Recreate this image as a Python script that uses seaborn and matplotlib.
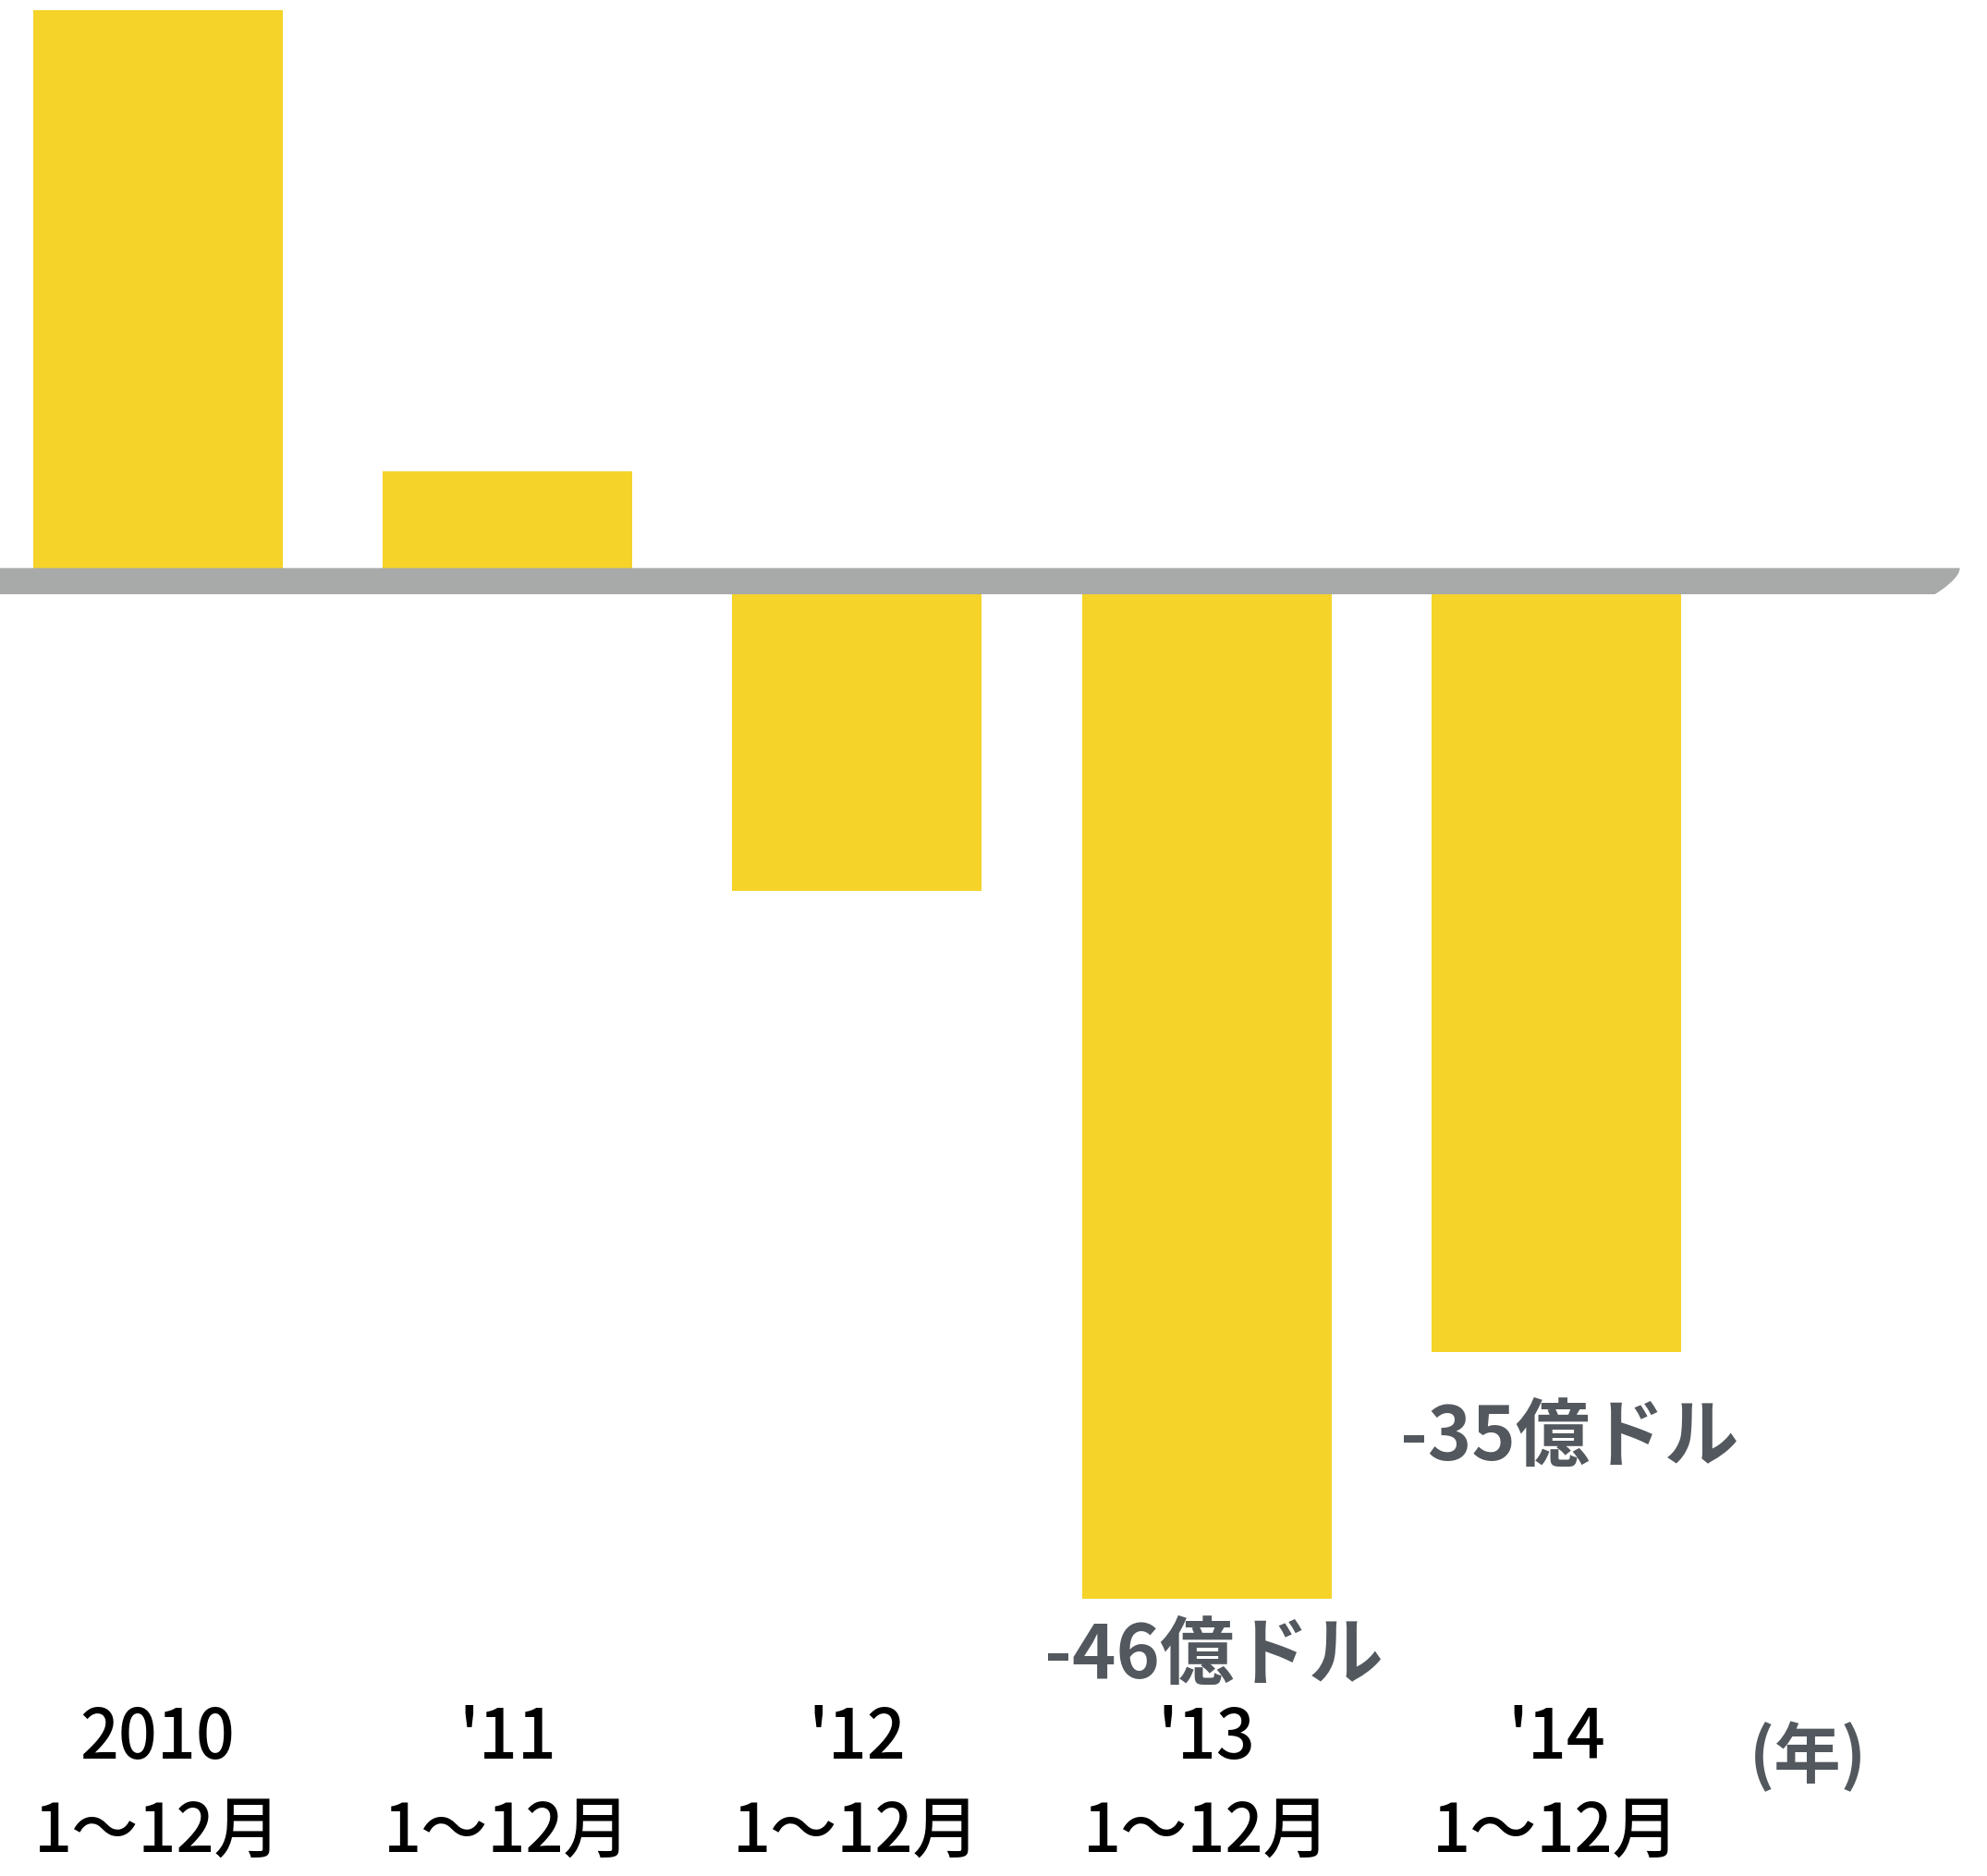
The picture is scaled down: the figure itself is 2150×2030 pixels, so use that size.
import matplotlib
matplotlib.use("Agg")
import matplotlib.pyplot as plt
import matplotlib.transforms as mtransforms
from matplotlib.patches import Polygon
import seaborn as sns
import numpy as np

# ---- data ----
years = ["2010", "'11", "'12", "'13", "'14"]
period = ["1～12月", "1～12月", "1～12月", "1～12月", "1～12月"]
values = [24.9, 4.3, -14.4, -46.0, -35.0]
value_labels = {3: "-46億ドル", 4: "-35億ドル"}
unit_label = "(年)"

YELLOW = "#F5D329"
BAND = "#A7AAA8"
LABEL_GRAY = "#53585E"

sns.set_theme(style="white")
plt.rcParams["font.family"] = ["Noto Sans CJK JP", "DejaVu Sans"]

fig = plt.figure(figsize=(21.5, 20.31), dpi=100)
ax = fig.add_axes([0, 0, 1, 1])

sns.barplot(x=list(range(len(values))), y=values, color=YELLOW, saturation=1,
            width=0.714, ax=ax, zorder=1, linewidth=0, native_scale=True)

ax.set_xlim(-0.451, 5.232)
ax.set_ylim(-58.39, 25.40)
ax.axis("off")

# zero band with curved, slanted right end
band_bottom = -1.17
xt, xb = 5.155, 5.083
t = np.linspace(0, 1, 20)
curve_x = xb + (xt - xb) * t
curve_y = band_bottom + (0 - band_bottom) * (1 - (1 - t) ** 0.6)
pts = [(-0.6, 0), (xt, 0)] + list(zip(curve_x[::-1], curve_y[::-1])) + [(-0.6, band_bottom)]
ax.add_patch(Polygon(pts, closed=True, facecolor=BAND, edgecolor="none", zorder=3))

# value labels
offsets = {3: (8, -62), 4: (14, -92)}
for i, txt in value_labels.items():
    ax.annotate(txt, xy=(i, values[i]), xytext=offsets[i], textcoords="offset pixels",
                ha="center", va="center", fontsize=58, fontweight="bold",
                color=LABEL_GRAY, zorder=5)

# category labels
tr = mtransforms.blended_transform_factory(ax.transData, fig.transFigure)
for i, (y, p) in enumerate(zip(years, period)):
    ax.text(i, 0.0734, y, transform=tr, ha="center", va="center",
            fontsize=53, color="black", fontweight="medium")
    ax.text(i, 0.0231, p, transform=tr, ha="center", va="center",
            fontsize=52, color="black", fontweight="medium")

ax.text(4.72, 0.0635, unit_label, transform=tr, ha="center", va="center",
        fontsize=52, color=LABEL_GRAY, fontweight="bold")

fig.savefig("out.png", dpi=100, facecolor="white")
